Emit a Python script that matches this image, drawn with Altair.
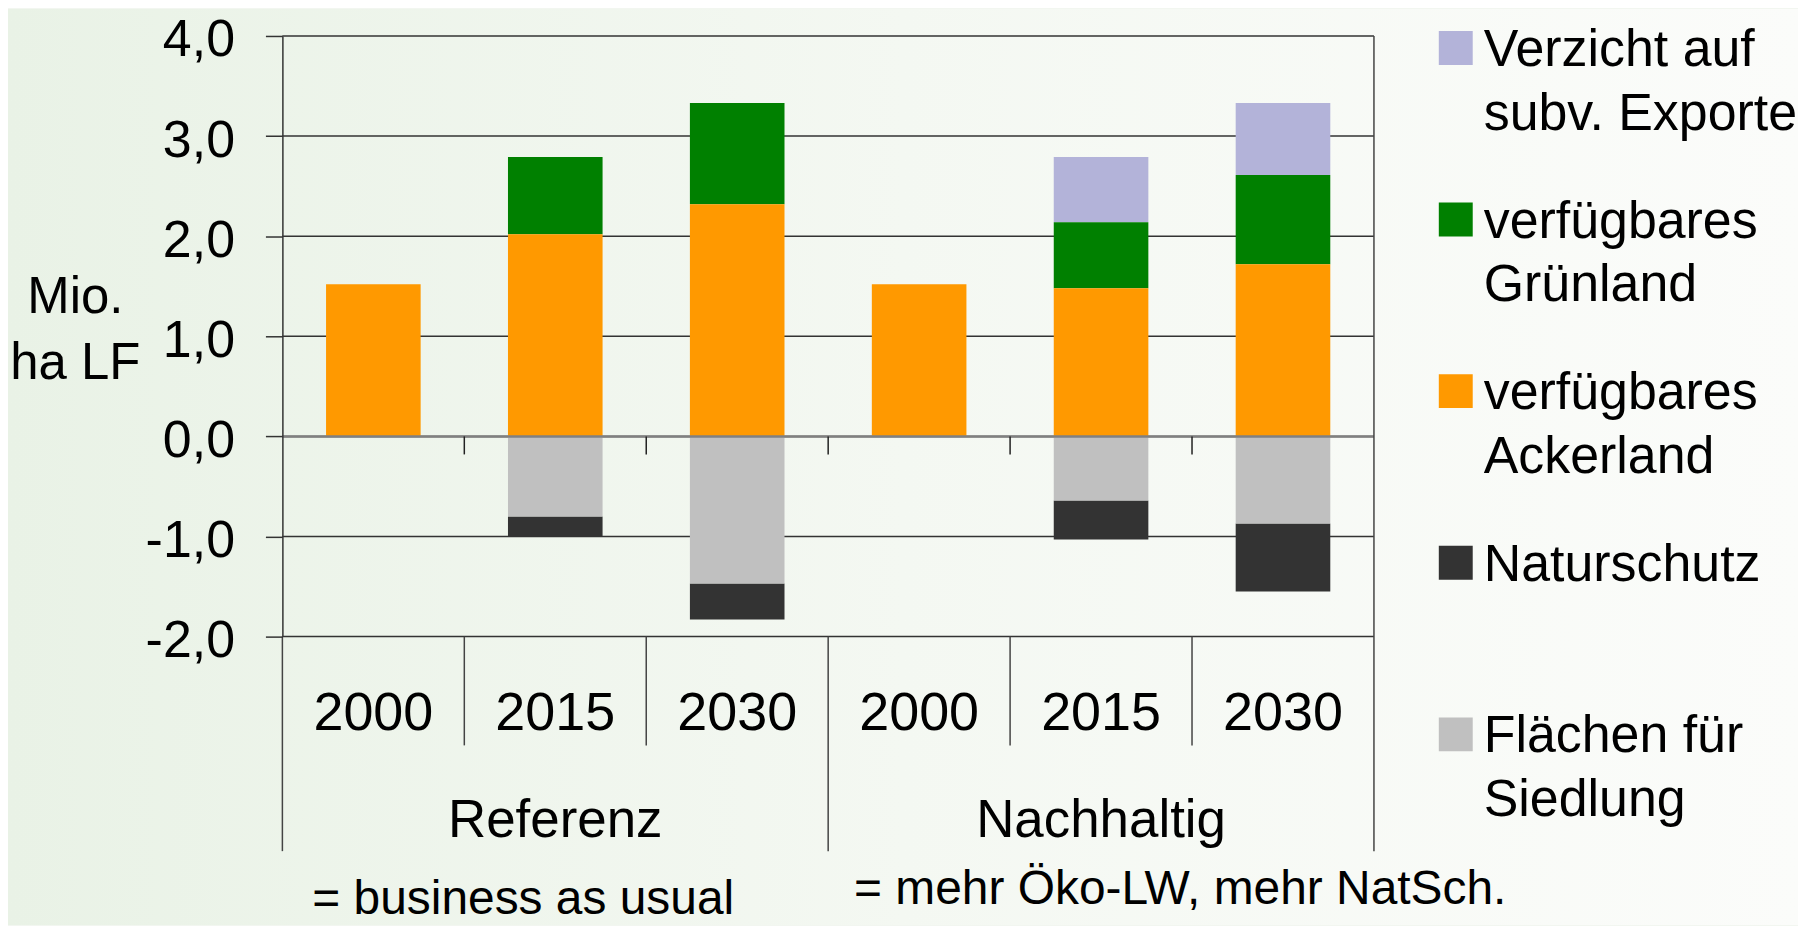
import altair as alt
import pandas as pd

# ---------------- data ----------------
keys = ["R2000", "R2015", "R2030", "N2000", "N2015", "N2030"]
ackerland = [1.52, 2.02, 2.32, 1.52, 1.48, 1.72]
gruenland = [0.0, 0.77, 1.01, 0.0, 0.66, 0.89]
exporte = [0.0, 0.0, 0.0, 0.0, 0.65, 0.72]
siedlung = [0.0, -0.80, -1.47, 0.0, -0.64, -0.87]
naturschutz = [0.0, -0.20, -0.36, 0.0, -0.39, -0.68]

series_names = ["Verzicht auf subv. Exporte", "verfügbares Grünland",
                "verfügbares Ackerland", "Naturschutz", "Flächen für Siedlung"]
series_colors = ["#B3B3D9", "#008000", "#FF9900", "#333333", "#C0C0C0"]
series_order = [2, 1, 0, 1, 0]
series_values = [exporte, gruenland, ackerland, naturschutz, siedlung]

y_ticks = [-2, -1, 0, 1, 2, 3, 4]
group_names = ["Referenz", "Nachhaltig"]
group_keys = ["R2015", "N2015"]
year_sep_keys = ["R2015", "R2030", "N2015", "N2030"]
group_sep_keys = ["R2000", "N2000"]
zero_tick_keys = ["R2015", "R2030", "N2000", "N2015", "N2030"]
footnotes = ["= business as usual", "= mehr Öko-LW, mehr NatSch."]

# ---------------- layout constants ----------------
W, H = 1094, 602
PAD = {"left": 275, "top": 27, "right": 425, "bottom": 289}
FONT = "Liberation Sans"

rows = []
for name, vals, o in zip(series_names, series_values, series_order):
    for k, v in zip(keys, vals):
        if v != 0:
            rows.append({"key": k, "serie": name, "value": v, "ord": o})
bars_df = pd.DataFrame(rows)

Y_SCALE = alt.Scale(domain=[-2, 4], nice=False, zero=False)
X_SCALE = alt.Scale(domain=keys, paddingInner=0, paddingOuter=0)

X_AXIS = alt.Axis(title=None, labelExpr="substring(datum.label, 1)",
                  labelFontSize=54, labelFont=FONT, labelColor="black",
                  labelPadding=93, labelBaseline="alphabetic", labelAngle=0,
                  ticks=False, domain=False, grid=False, zindex=1)
Y_AXIS = alt.Axis(values=y_ticks, grid=False, zindex=1,
                  labelExpr="(datum.value < 0 ? '-' : '') + replace(format(abs(datum.value), '.1f'), '.', ',')",
                  labelFontSize=52, labelFont=FONT, labelColor="black",
                  labelPadding=31, labelBaseline="alphabetic", labelOffset=20,
                  labelFlush=False, labelOverlap=False,
                  tickSize=17, tickColor="#333333", tickWidth=1.5,
                  domainColor="#333333", domainWidth=1.5,
                  title=["Mio.", "ha LF"], titleAngle=0, titleAlign="center",
                  titleBaseline="alphabetic", titleX=-208, titleY=277,
                  titleFontSize=51, titleFont=FONT, titleFontWeight="normal",
                  titleColor="black", titleLineHeight=66)

legend_expr = (
    "datum.label == 'Verzicht auf subv. Exporte' ? ['Verzicht auf', 'subv. Exporte'] : "
    "datum.label == 'verfügbares Grünland' ? ['verfügbares', 'Grünland'] : "
    "datum.label == 'verfügbares Ackerland' ? ['verfügbares', 'Ackerland'] : "
    "datum.label == 'Flächen für Siedlung' ? ['Flächen für', 'Siedlung'] : datum.label"
)

# background gradient over whole chart
bg = alt.Chart(pd.DataFrame({"a": [0]})).mark_rect(
    color=alt.LinearGradient(
        gradient="linear",
        stops=[alt.GradientStop(color="#E9F2E6", offset=0),
               alt.GradientStop(color="#F4F8F2", offset=0.5),
               alt.GradientStop(color="#FBFCFA", offset=1)],
        x1=0, x2=1, y1=0, y2=0),
).encode(
    x=alt.value(-PAD["left"]), x2=alt.value(W + PAD["right"]),
    y=alt.value(-PAD["top"]), y2=alt.value(H + PAD["bottom"]),
)

grid = alt.Chart(pd.DataFrame({"value": y_ticks})).mark_rule(
    color="#333333", strokeWidth=1.5
).encode(y=alt.Y("value:Q", scale=Y_SCALE, axis=Y_AXIS))

bars = alt.Chart(bars_df).mark_bar(width=alt.RelativeBandSize(0.52)).encode(
    x=alt.X("key:N", scale=X_SCALE, axis=X_AXIS),
    y=alt.Y("value:Q", stack="zero", scale=Y_SCALE, axis=Y_AXIS),
    color=alt.Color("serie:N",
                    scale=alt.Scale(domain=series_names, range=series_colors),
                    legend=alt.Legend(
                        title=None, orient="none", legendX=1150, legendY=4,
                        direction="vertical", padding=0,
                        symbolType="M-1,-2.06L1,-2.06L1,-0.06L-1,-0.06Z",
                        symbolSize=1156, symbolStrokeWidth=0, symbolOpacity=1,
                        labelFontSize=52, labelFont=FONT, labelColor="black",
                        labelLimit=800, labelOffset=2, labelBaseline="alphabetic",
                        gridAlign="all", rowPadding=56,
                        labelExpr=legend_expr,
                    )),
    order=alt.Order("ord:Q", sort="ascending"),
)

zero_line = alt.Chart(pd.DataFrame({"value": [0]})).mark_rule(
    color="#808080", strokeWidth=2.5
).encode(y=alt.Y("value:Q", scale=Y_SCALE, axis=Y_AXIS))

zero_ticks = alt.Chart(pd.DataFrame({"key": zero_tick_keys, "value": 0.0, "t1": -0.18})).mark_rule(
    color="#222222", strokeWidth=1.5
).encode(
    x=alt.X("key:N", scale=X_SCALE, bandPosition=0, axis=X_AXIS),
    y=alt.Y("value:Q", scale=Y_SCALE, axis=Y_AXIS),
    y2="t1:Q",
)

year_sep = alt.Chart(pd.DataFrame({"key": year_sep_keys})).mark_rule(
    color="#444444", strokeWidth=1.5
).encode(
    x=alt.X("key:N", scale=X_SCALE, bandPosition=0, axis=X_AXIS),
    y=alt.value(H), y2=alt.value(H + 109),
)

group_sep = alt.Chart(pd.DataFrame({"key": group_sep_keys})).mark_rule(
    color="#444444", strokeWidth=1.5
).encode(
    x=alt.X("key:N", scale=X_SCALE, bandPosition=0, axis=X_AXIS),
    y=alt.value(H), y2=alt.value(H + 215),
)

right_frame = alt.Chart(pd.DataFrame({"key": [keys[-1]]})).mark_rule(
    color="#444444", strokeWidth=1.5
).encode(
    x=alt.X("key:N", scale=X_SCALE, bandPosition=1, axis=X_AXIS),
    y=alt.value(0), y2=alt.value(H + 215),
)

group_labels = alt.Chart(pd.DataFrame({"key": group_keys, "name": group_names})).mark_text(
    fontSize=53, font=FONT, color="black", baseline="alphabetic", align="center"
).encode(
    x=alt.X("key:N", scale=X_SCALE, axis=X_AXIS),
    y=alt.value(803),
    text="name:N",
)

note1 = alt.Chart(pd.DataFrame({"t": [footnotes[0]]})).mark_text(
    fontSize=48, font=FONT, color="black", baseline="alphabetic", align="left"
).encode(x=alt.value(30), y=alt.value(880), text="t:N")

note2 = alt.Chart(pd.DataFrame({"t": [footnotes[1]]})).mark_text(
    fontSize=48, font=FONT, color="black", baseline="alphabetic", align="left"
).encode(x=alt.value(573), y=alt.value(870), text="t:N")

chart = alt.layer(
    bg, grid, bars, zero_line, zero_ticks, year_sep, group_sep, right_frame,
    group_labels, note1, note2
).properties(
    width=W, height=H, padding=PAD,
    autosize=alt.AutoSizeParams(type="none"),
).configure(
    background="#F2F6F0",
    style={"guide-label": {"lineHeight": 64}},
).configure_view(strokeWidth=0)

chart.save("out.html", embed_options={"renderer": "svg", "actions": False})
